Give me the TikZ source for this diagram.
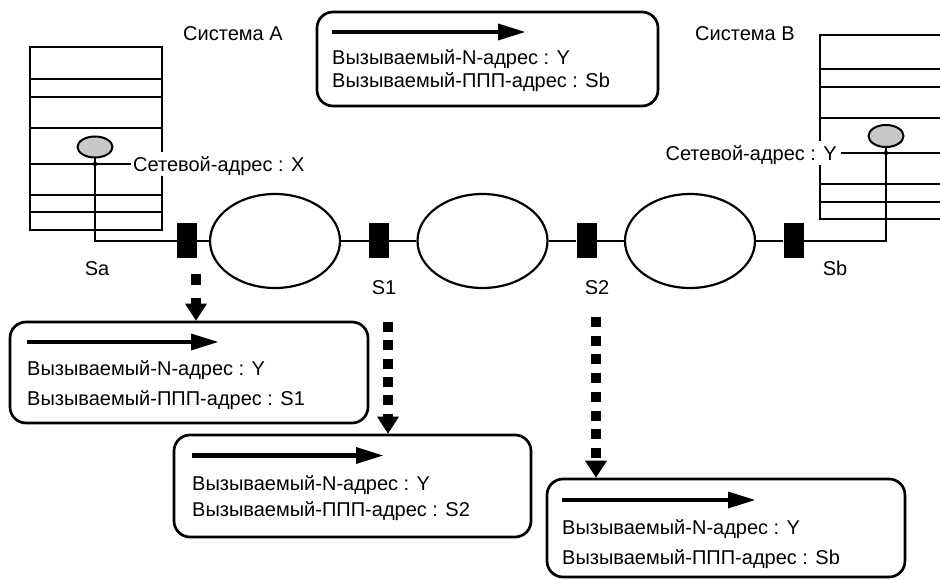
\documentclass[tikz,border=0pt]{standalone}
\usepackage{fontspec}
\setmainfont{Liberation Sans}
\usetikzlibrary{arrows.meta,shapes.geometric}
\definecolor{dotgray}{HTML}{C8C8C8}
\begin{document}
\begin{tikzpicture}[x=1pt,y=-1pt,
  font=\fontsize{20}{22}\selectfont,
  txt/.style={inner sep=0pt,text height=14.3pt,text depth=0pt},
  thinline/.style={line width=2pt},
  stackline/.style={line width=2.1pt},
  switchbox/.style={fill=black,minimum width=20pt,minimum height=35pt,inner sep=0pt},
  net/.style={ellipse,draw,line width=2.2pt,minimum width=130pt,minimum height=94pt,inner sep=0pt},
  addr/.style={ellipse,draw,fill=dotgray,line width=2pt,minimum width=35pt,minimum height=21pt,inner sep=0pt},
  dotnode/.style={circle,fill=black,minimum size=4.5pt,inner sep=0pt},
  msgbox/.style={draw,rounded corners=16pt,line width=2.7pt,inner sep=0pt},
  msgarrow/.style={line width=4.5pt,-{Triangle[length=27pt,width=17pt,line width=0pt]}},
  dotarrow/.style={line width=10pt,-{Triangle[length=17pt,width=22pt,line width=0pt]}}
]
\useasboundingbox (0,0) rectangle (940,580);
\clip (0,0) rectangle (940,580);

% ---- System A stack
\draw[stackline] (30,47) rectangle (162,230);
\foreach \yy in {79,97,128,164,195,212} \draw[stackline] (30,\yy) -- (162,\yy);
\node[addr] (eA) at (95,147) {};
\node[dotnode] (dA) at (95,164) {};
\node[txt,anchor=west,fill=white,inner xsep=2pt,inner ysep=5pt] (netA) at (131,164) {Сетевой-адрес : X};
\node[txt,anchor=west] (sysA) at (183,33) {Система A};

% ---- System B stack
\draw[stackline] (952,35) -- (820,35) -- (820,219) -- (952,219);
\foreach \yy in {69,87,118,153,184,202} \draw[stackline] (820,\yy) -- (952,\yy);
\node[addr,minimum height=22pt] (eB) at (886,136) {};
\node[dotnode] (dB) at (886,153) {};
\node[txt,anchor=east,fill=white,inner xsep=4pt,inner ysep=5pt] (netB) at (841,153) {Сетевой-адрес : Y};
\node[txt,anchor=west] (sysB) at (695,33) {Система B};

% ---- network chain
\node[switchbox] (Sa) at (187,241) {};
\node[net] (N1) at (275,241) {};
\node[switchbox] (S1) at (379,241) {};
\node[net] (N2) at (482.5,241) {};
\node[switchbox] (S2) at (586.5,241) {};
\node[net] (N3) at (690,241) {};
\node[switchbox] (Sb) at (793.5,241) {};

\draw[thinline] (eA.south) -- (dA.center) |- (Sa.west);
\draw[thinline] (eB.south) -- (dB.center) |- (Sb.east);
\draw[thinline] (Sa) -- (N1) -- (S1) -- (N2) -- (S2) -- (N3) -- (Sb);

\node[txt] (lSa) at (97,268) {Sa};
\node[txt] (lS1) at (384,287) {S1};
\node[txt] (lS2) at (597,287) {S2};
\node[txt] (lSb) at (835,268) {Sb};

% ---- message boxes
\node[msgbox,minimum width=341pt,minimum height=94pt] (T) at (487.5,59) {};
\draw[msgarrow] (332,32) -- (525,32);
\node[txt,anchor=west] (T1) at (332,57) {Вызываемый-N-адрес : Y};
\node[txt,anchor=west] (T2) at (332,80) {Вызываемый-ППП-адрес : Sb};

\node[msgbox,minimum width=358pt,minimum height=101pt] (B1) at (189,372.5) {};
\draw[msgarrow] (27,342) -- (218,342);
\node[txt,anchor=west] (B1a) at (27,368) {Вызываемый-N-адрес : Y};
\node[txt,anchor=west] (B1b) at (27,398) {Вызываемый-ППП-адрес : S1};

\node[msgbox,minimum width=357pt,minimum height=102pt] (B2) at (352.5,486) {};
\draw[msgarrow] (192,455.5) -- (383,455.5);
\node[txt,anchor=west] (B2a) at (192,483.5) {Вызываемый-N-адрес : Y};
\node[txt,anchor=west] (B2b) at (192,509) {Вызываемый-ППП-адрес : S2};

\node[msgbox,minimum width=358pt,minimum height=98pt] (B3) at (726,528) {};
\draw[msgarrow] (562,500) -- (755,500);
\node[txt,anchor=west] (B3a) at (562,527) {Вызываемый-N-адрес : Y};
\node[txt,anchor=west] (B3b) at (562,557) {Вызываемый-ППП-адрес : Sb};

% ---- dotted arrows
\coordinate (aSa) at (196,274);
\coordinate (aS1) at (388,322);
\coordinate (aS2) at (596,317);
\draw[dotarrow,dash pattern=on 11pt off 13pt] (aSa) -- (aSa |- B1.north);
\draw[dotarrow,dash pattern=on 10pt off 8.3pt] (aS1) -- (aS1 |- B2.north);
\draw[dotarrow,dash pattern=on 10pt off 8.7pt] (aS2) -- (aS2 |- B3.north);
\end{tikzpicture}
\end{document}
